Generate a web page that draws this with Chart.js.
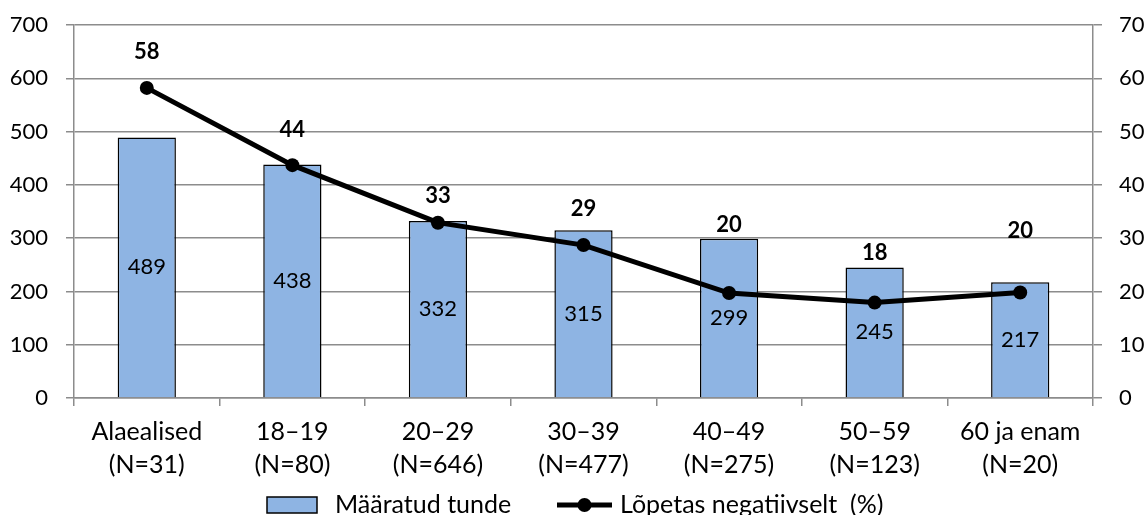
<!DOCTYPE html>
<html><head><meta charset="utf-8">
<script src="https://cdn.jsdelivr.net/npm/chart.js@4/dist/chart.umd.min.js"></script>
<style>html,body{margin:0;padding:0;background:#fff}#wrap{width:1148px;height:515px}</style>
</head><body><div id="wrap"><canvas id="c" width="1148" height="515"></canvas></div>
<script>
const categories = [["Alaealised","(N=31)"],["18–19","(N=80)"],["20–29","(N=646)"],["30–39","(N=477)"],["40–49","(N=275)"],["50–59","(N=123)"],["60 ja enam","(N=20)"]];
const hours = [489, 438, 332, 315, 299, 245, 217];
const negativePct = [58.2, 43.7, 32.9, 28.7, 19.7, 17.9, 19.8];
const leftTicks = [0,100,200,300,400,500,600,700];
const rightTicks = [0,10,20,30,40,50,60,70];
const seriesNames = ["Määratud tunde", "Lõpetas negatiivselt  (%)"];

const labelLift = [36, 35, 27, 36, 68, 50, 62];
const FONT = "Lato, 'Open Sans', sans-serif";
const NUM = 22;
const TXT = 25;
const GRID = '#8c8c8c';

const labelPlugin = {
  id: 'labels',
  afterDatasetsDraw(chart) {
    const ctx = chart.ctx;
    ctx.save();
    ctx.textAlign = 'center';
    ctx.textBaseline = 'middle';
    const barMeta = chart.getDatasetMeta(1);
    ctx.font = NUM + "px " + FONT;
    ctx.fillStyle = '#000';
    barMeta.data.forEach((b, i) => {
      ctx.fillText(String(hours[i]), b.x, (b.y + b.base) / 2);
    });
    const lineMeta = chart.getDatasetMeta(0);
    ctx.font = "bold " + NUM + "px " + FONT;
    lineMeta.data.forEach((p, i) => {
      ctx.fillText(String(Math.round(negativePct[i])), p.x, p.y - labelLift[i]);
    });
    ctx.restore();
  },
  afterDraw(chart) {
    const ctx = chart.ctx;
    ctx.save();
    const cy = 505;
    ctx.fillStyle = '#8EB4E3';
    ctx.strokeStyle = '#000';
    ctx.lineWidth = 1.5;
    ctx.fillRect(267, 497, 50, 16);
    ctx.strokeRect(267, 497, 50, 16);
    ctx.font = TXT + "px " + FONT;
    ctx.fillStyle = '#000';
    ctx.textBaseline = 'middle';
    ctx.textAlign = 'left';
    ctx.fillText(seriesNames[0], 335, cy);
    ctx.beginPath();
    ctx.lineWidth = 5;
    ctx.moveTo(557, cy); ctx.lineTo(612, cy);
    ctx.stroke();
    ctx.beginPath();
    ctx.arc(584.5, cy, 7, 0, Math.PI * 2);
    ctx.fillStyle = '#000';
    ctx.fill();
    ctx.fillText(seriesNames[1], 620, cy);
    ctx.restore();
  }
};

new Chart(document.getElementById('c'), {
  data: {
    labels: categories,
    datasets: [
      {
        type: 'line', label: seriesNames[1], data: negativePct, yAxisID: 'y1', order: 0,
        borderColor: '#000', backgroundColor: '#000', borderWidth: 5,
        pointRadius: 7, pointBackgroundColor: '#000', pointBorderWidth: 0, tension: 0
      },
      {
        type: 'bar', label: seriesNames[0], data: hours, yAxisID: 'y', order: 1,
        backgroundColor: '#8EB4E3', borderColor: '#000', borderWidth: 1.5,
        barPercentage: 0.4, categoryPercentage: 1.0
      }
    ]
  },
  options: {
    responsive: false, animation: false,
    layout: { padding: { top: 25, left: 0, right: 0, bottom: 0 } },
    plugins: { legend: { display: false }, tooltip: { enabled: false } },
    scales: {
      x: {
        offset: true,
        grid: { offset: true, drawOnChartArea: false, drawTicks: true, tickLength: 8, color: GRID, lineWidth: 1.5 },
        border: { color: GRID, width: 1.5 },
        ticks: { color: '#000', font: { family: FONT, size: TXT, lineHeight: 1.32 }, padding: 9, maxRotation: 0, autoSkip: false },
        afterFit(s) { s.height = 117; s.paddingLeft = 0; s.paddingRight = 0; }
      },
      y: {
        position: 'left', min: 0, max: 700,
        afterBuildTicks(s) { s.ticks = leftTicks.map(v => ({ value: v })); },
        grid: { color: GRID, lineWidth: 1.5, tickLength: 8 },
        border: { color: GRID, width: 1.5 },
        ticks: { color: '#000', font: { family: FONT, size: NUM }, padding: 18 },
        afterFit(s) { s.width = 74; s.paddingTop = 0; s.paddingBottom = 0; }
      },
      y1: {
        position: 'right', min: 0, max: 70,
        afterBuildTicks(s) { s.ticks = rightTicks.map(v => ({ value: v })); },
        grid: { drawOnChartArea: false, color: GRID, lineWidth: 1.5, tickLength: 9 },
        border: { color: GRID, width: 1.5 },
        ticks: { color: '#000', font: { family: FONT, size: NUM }, padding: 17 },
        afterFit(s) { s.width = 55; s.paddingTop = 0; s.paddingBottom = 0; }
      }
    }
  },
  plugins: [labelPlugin]
});
</script></body></html>
